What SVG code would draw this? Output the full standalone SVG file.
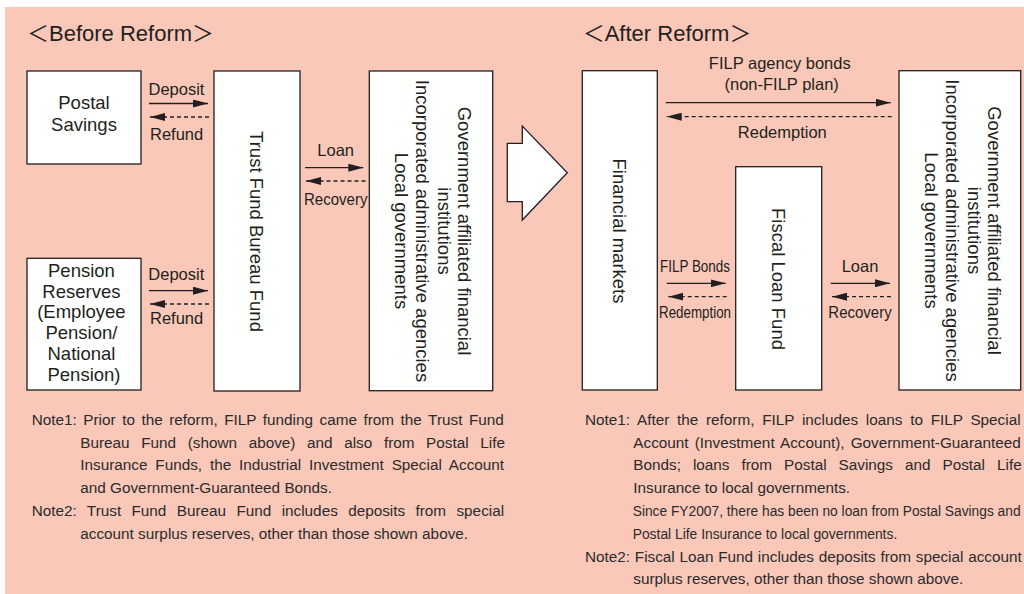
<svg xmlns="http://www.w3.org/2000/svg" width="1024" height="594" viewBox="0 0 1024 594">
<style>
.box{fill:#fff;stroke:#231f20;stroke-width:1.3}
.t{font-family:"Liberation Sans",Arial,"Noto Sans CJK JP",sans-serif;fill:#231f20}
.bx{font-size:18.5px}
.lb{font-size:16.5px}
.nt{font-size:15.3px;fill:#2b2b2b}
.ttl{font-size:22px}
.solid{stroke:#231f20;stroke-width:1.3;fill:none;marker-end:url(#ah)}
.dash{stroke:#231f20;stroke-width:1.3;fill:none;stroke-dasharray:4 3;marker-end:url(#ah)}
</style>
<defs>
<marker id="ah" markerUnits="userSpaceOnUse" markerWidth="15" markerHeight="8" refX="15" refY="4" orient="auto">
<path d="M0,0 L15,4 L0,8 z" fill="#231f20"/>
</marker>
</defs>
<rect x="5" y="7" width="1019" height="587" fill="#f9c8b9"/>

<text class="t ttl" x="27" y="41">＜Before Reform＞</text>
<text class="t ttl" x="582.7" y="41">＜After Reform＞</text>

<g id="postal-savings">
<rect class="box" x="27" y="71" width="114" height="93"/>
<text class="t bx" x="84" y="109" text-anchor="middle">Postal</text>
<text class="t bx" x="84" y="131" text-anchor="middle">Savings</text>
</g>

<g id="pension-reserves">
<rect class="box" x="27" y="258.3" width="114" height="131.7"/>
<text class="t bx" text-anchor="middle">
<tspan x="84" y="276.7">Pension</tspan>
<tspan x="84" y="297.5">Reserves</tspan>
<tspan x="84" y="318.3">(Employee</tspan>
<tspan x="84" y="339.2">Pension/</tspan>
<tspan x="84" y="360">National</tspan>
<tspan x="84" y="380.8">Pension)</tspan>
</text>
</g>

<g id="trust-fund-bureau-fund">
<rect class="box" x="214" y="71" width="86" height="320"/>
<text class="t bx" text-anchor="middle" transform="translate(257,231.5) rotate(90)" x="0" y="6.6">Trust Fund Bureau Fund</text>
</g>

<g id="gov-before">
<rect class="box" x="369.3" y="71" width="123.4" height="319.7"/>
<g transform="translate(431,231) rotate(90)">
<text class="t bx" text-anchor="middle" x="0" y="-26.8">Government affiliated financial</text>
<text class="t bx" text-anchor="middle" x="0" y="-7.3">institutions</text>
<text class="t bx" text-anchor="middle" x="0" y="15.2">Incorporated administrative agencies</text>
<text class="t bx" text-anchor="middle" x="0" y="36.2">Local governments</text>
</g>
</g>

<g id="reform-arrow">
<polygon class="box" points="507.3,143.3 522.3,143.3 522.3,126 567.3,172.7 522.3,220 522.3,201.7 507.3,201.7"/>
</g>

<g id="financial-markets">
<rect class="box" x="582.3" y="70.7" width="75" height="319.3"/>
<text class="t bx" text-anchor="middle" transform="translate(619.8,231) rotate(90)" x="0" y="6.6">Financial markets</text>
</g>

<g id="fiscal-loan-fund">
<rect class="box" x="735.7" y="166.7" width="86" height="223.3"/>
<text class="t bx" text-anchor="middle" transform="translate(778.7,279) rotate(90)" x="0" y="6.6">Fiscal Loan Fund</text>
</g>

<g id="gov-after">
<rect class="box" x="899" y="70.7" width="121.7" height="319.3"/>
<g transform="translate(960,230.5) rotate(90)">
<text class="t bx" text-anchor="middle" x="0" y="-27.5">Government affiliated financial</text>
<text class="t bx" text-anchor="middle" x="0" y="-8">institutions</text>
<text class="t bx" text-anchor="middle" x="0" y="14.5">Incorporated administrative agencies</text>
<text class="t bx" text-anchor="middle" x="0" y="35.5">Local governments</text>
</g>
</g>

<g id="connectors">
<line class="solid" x1="149" y1="103.5" x2="208" y2="103.5"/>
<line class="dash" x1="209" y1="117" x2="150" y2="117"/>
<line class="solid" x1="149" y1="290.7" x2="208" y2="290.7"/>
<line class="dash" x1="209" y1="304" x2="150" y2="304"/>
<line class="solid" x1="305" y1="167.7" x2="363.3" y2="167.7"/>
<line class="dash" x1="365.5" y1="181" x2="306" y2="181"/>
<line class="solid" x1="665.7" y1="102.7" x2="890.7" y2="102.7"/>
<line class="dash" x1="891.7" y1="116.7" x2="666.7" y2="116.7"/>
<line class="solid" x1="666.7" y1="283.3" x2="725.7" y2="283.3"/>
<line class="dash" x1="726.7" y1="296.7" x2="668.3" y2="296.7"/>
<line class="solid" x1="830.7" y1="283.3" x2="890" y2="283.3"/>
<line class="dash" x1="891" y1="296.7" x2="832" y2="296.7"/>
<text class="t lb" x="148.5" y="94.5">Deposit</text>
<text class="t lb" x="150" y="139.5">Refund</text>
<text class="t lb" x="148.3" y="280">Deposit</text>
<text class="t lb" x="150" y="324">Refund</text>
<text class="t lb" x="317.3" y="155.5">Loan</text>
<text class="t lb" x="304" y="205" textLength="63.5" lengthAdjust="spacingAndGlyphs">Recovery</text>
<text class="t lb" x="779.8" y="69" text-anchor="middle">FILP agency bonds</text>
<text class="t lb" x="781.7" y="90" text-anchor="middle">(non-FILP plan)</text>
<text class="t lb" x="782.3" y="137.5" text-anchor="middle">Redemption</text>
<text class="t lb" x="660" y="271.7" textLength="70" lengthAdjust="spacingAndGlyphs">FILP Bonds</text>
<text class="t lb" x="659" y="318.3" textLength="72" lengthAdjust="spacingAndGlyphs">Redemption</text>
<text class="t lb" x="841.7" y="271.7">Loan</text>
<text class="t lb" x="828.3" y="318.3" textLength="63.4" lengthAdjust="spacingAndGlyphs">Recovery</text>
</g>

<g id="notes-before">
<text class="t nt" x="31.7" y="425" word-spacing="2.29">Note1: Prior to the reform, FILP funding came from the Trust Fund</text>
<text class="t nt" x="80.3" y="447.7" word-spacing="7.37">Bureau Fund (shown above) and also from Postal Life</text>
<text class="t nt" x="80.3" y="470.3" word-spacing="3.6">Insurance Funds, the Industrial Investment Special Account</text>
<text class="t nt" x="80.3" y="493">and Government-Guaranteed Bonds.</text>
<text class="t nt" x="31.7" y="515.7" word-spacing="6.12">Note2: Trust Fund Bureau Fund includes deposits from special</text>
<text class="t nt" x="80.3" y="538.7">account surplus reserves, other than those shown above.</text>
</g>

<g id="notes-after">
<text class="t nt" x="585" y="425" word-spacing="3.49">Note1: After the reform, FILP includes loans to FILP Special</text>
<text class="t nt" x="633.3" y="447.7" word-spacing="1.9">Account (Investment Account), Government-Guaranteed</text>
<text class="t nt" x="633.3" y="470.3" word-spacing="7.74">Bonds; loans from Postal Savings and Postal Life</text>
<text class="t nt" x="633.3" y="493">Insurance to local governments.</text>
<text class="t nt" transform="translate(632.7,515.7) scale(0.9,1)" x="0" y="0">Since FY2007, there has been no loan from Postal Savings and</text>
<text class="t nt" transform="translate(632.7,538.7) scale(0.905,1)" x="0" y="0">Postal Life Insurance to local governments.</text>
<text class="t nt" x="585" y="561.7" word-spacing="0.49">Note2: Fiscal Loan Fund includes deposits from special account</text>
<text class="t nt" x="633.3" y="584.3">surplus reserves, other than those shown above.</text>
</g>
</svg>
